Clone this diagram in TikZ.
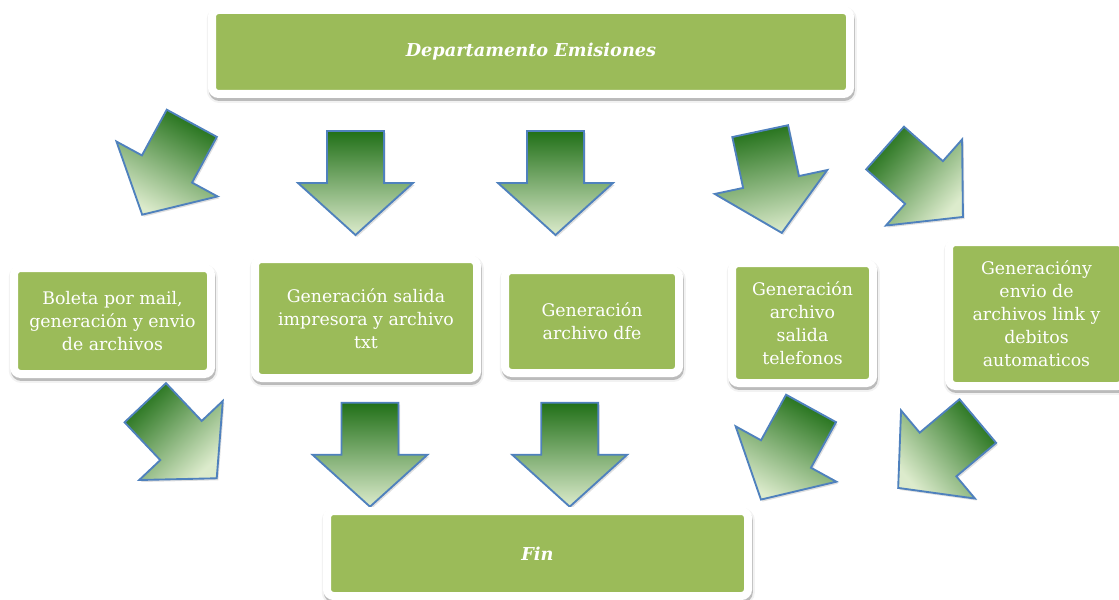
\documentclass[tikz,border=0pt]{standalone}
\usepackage{fontspec}
\setmainfont{DejaVu Serif}
\usetikzlibrary{shadows}

\definecolor{boxgreen}{HTML}{9BBB59}
\definecolor{arrowline}{HTML}{4F81BD}
\definecolor{arrowdark}{HTML}{217018}
\definecolor{arrowmid}{HTML}{A2BD72}
\definecolor{arrowlight}{HTML}{DCEBCC}

\tikzset{
	cardshadow/.style={preaction={draw=black, fill=black, opacity=#1,
		line width=6pt, transform canvas={xshift=0.6pt, yshift=-2.2pt}}},
	stagebox/.style={rounded corners=5pt, fill=boxgreen, draw=white, line width=6pt,
		cardshadow=0.10, cardshadow=0.14,
		preaction={draw=black, opacity=0.05, line width=9pt,
			transform canvas={xshift=0.6pt, yshift=-2.2pt}},
		text=white, align=center, inner sep=2pt,
		font=\fontsize{13}{17.25}\selectfont},
	headbox/.style={stagebox, font=\fontsize{13.3}{16}\selectfont\bfseries\itshape},
	blockarrow/.style={draw=arrowline, line width=1.4pt, line join=miter,
		top color=arrowdark, middle color=arrowmid, bottom color=arrowlight,
		drop shadow={shadow xshift=1.2pt, shadow yshift=-1.5pt, opacity=0.25}},
}

% block arrow: #1 centre, #2 direction
\newcommand{\emarrow}[2]{%
	\pgfmathsetmacro{\shadeang}{#2+90}
	\begin{scope}[shift={(#1)}, rotate=#2]
		\shade[blockarrow, shading angle=\shadeang]
			(-52,-28.5) -- (0,-28.5) -- (0,-57.5) -- (52,0)
			-- (0,57.5) -- (0,28.5) -- (-52,28.5) -- cycle;
	\end{scope}}

\begin{document}
\begin{tikzpicture}[x=0.75pt, y=-0.75pt]

% frame %{{{1

	\useasboundingbox (0,0) rectangle (1119,599);

% arrow positions %{{{1

	\coordinate (a1) at (167,169);
	\coordinate (a2) at (355.5,183);
	\coordinate (a3) at (555.5,183);
	\coordinate (a4) at (771,182);
	\coordinate (a5) at (924,182.5);

	\coordinate (b1) at (181,440.5);
	\coordinate (b2) at (370,454.7);
	\coordinate (b3) at (569.7,454.7);
	\coordinate (b4) at (786,454);
	\coordinate (b5) at (938,454.5);

% arrows %{{{1

	\emarrow{a1}{-118.5}
	\emarrow{a2}{-90}
	\emarrow{a3}{-90}
	\emarrow{a4}{-78}
	\emarrow{a5}{-41.5}

	\emarrow{b1}{-46.6}
	\emarrow{b2}{-90}
	\emarrow{b3}{-90}
	\emarrow{b4}{-118.8}
	\emarrow{b5}{-140}

% boxes %{{{1

	\node[headbox, minimum width=478.5pt, minimum height=63pt] (emisiones)
		at (531,52) {Departamento Emisiones};

	\node[stagebox, minimum width=147.75pt, minimum height=79.5pt] (boleta)
		at (112.5,321) {Boleta por mail,\\generación y envio\\de archivos};
	\node[stagebox, minimum width=166.5pt, minimum height=89.25pt] (impresora)
		at (366,318.5) {Generación salida\\impresora y archivo\\txt};
	\node[stagebox, minimum width=130.5pt, minimum height=77.25pt] (dfe)
		at (592,321.5) {Generación\\archivo dfe};
	\node[stagebox, minimum width=105.75pt, minimum height=90pt] (telefonos)
		at (802.5,323) {Generación\\archivo\\salida\\telefonos};
	\node[stagebox, minimum width=131.25pt, minimum height=108pt] (debitos)
		at (1036.5,314) {Generacióny\\envio de\\archivos link y\\debitos\\automaticos};

	\node[headbox, minimum width=315.75pt, minimum height=63.75pt] (fin)
		at (537.5,553.5) {Fin};

% closing %{{{1

\end{tikzpicture}
\end{document}
